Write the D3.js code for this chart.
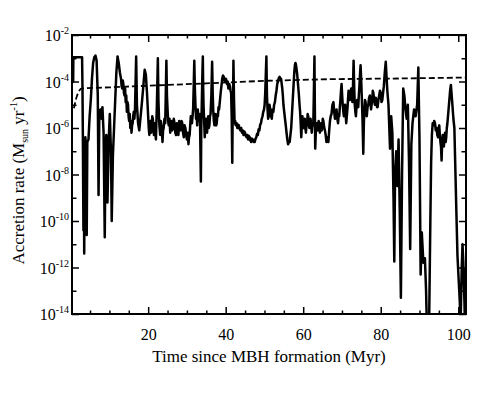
<!DOCTYPE html>
<html lang="en">
<head>
<meta charset="UTF-8">
<script src="https://d3js.org/d3.v7.min.js"></script>
<title>MBH accretion rate</title>
<style>
    body { margin: 0; background: #fff; }
    svg text { font-family: "Liberation Serif", "Times New Roman", serif; fill: #000; }
</style>
</head>
<body>
<script>
// accretion history of the MBH: time (Myr) and rate (Msun/yr), one row per stretch
var time = [0.65, 0.7, 2.95, 3.05, 3.15, 3.3, 3.4, 3.5, 3.65, 3.8, 4.0, 4.15, 4.3, 4.6, 4.9, 5.2, 5.5, 5.8, 6.1, 6.4,
    6.7, 7.0, 7.2, 7.4, 7.7, 8.0, 8.2, 8.5, 8.8, 9.0, 9.2, 9.5, 9.8, 10.1, 10.4, 10.6, 10.9, 11.2, 11.5, 11.8, 12.1, 12.4, 12.7,
    13.0, 13.15, 13.3, 13.45, 13.6, 13.75, 13.9, 14.05, 14.2, 14.35, 14.5, 14.65, 14.8, 14.95, 15.1, 15.25, 15.4, 15.55, 15.7, 15.85, 16.0, 16.15, 16.3, 16.45, 16.6,
    16.9, 17.1, 17.4, 17.7, 18.0, 18.4, 18.8, 19.1, 19.4, 19.7,
    20.0, 20.15, 20.3, 20.45, 20.6, 20.75, 20.9, 21.05, 21.2, 21.35, 21.5, 21.6, 21.7, 21.85, 22.0, 22.25, 22.5, 22.65, 22.8, 22.95, 23.1, 23.25, 23.4, 23.55, 23.7, 23.85, 24.0, 24.2, 24.4, 24.55, 24.7, 24.85,
    25.0, 25.15, 25.3, 25.5, 25.7, 25.85, 26.0, 26.2, 26.4, 26.6, 26.8, 27.0, 27.2, 27.4, 27.6, 27.8, 28.0, 28.2, 28.4, 28.6, 28.8, 29.0, 29.2, 29.4, 29.6, 29.8, 30.0, 30.2, 30.4, 30.55, 30.7, 30.85, 31.0,
    31.3, 31.6, 31.75, 31.9, 32.05, 32.2, 32.35, 32.5, 32.65, 32.8, 32.95, 33.1, 33.35, 33.6, 33.7, 33.8, 33.95, 34.1, 34.2, 34.3,
    34.45, 34.6, 34.75, 34.9, 35.05, 35.2, 35.35, 35.5, 35.65, 35.8, 35.95, 36.1, 36.3, 36.5, 36.65, 36.8, 36.95, 37.1, 37.25, 37.4, 37.55, 37.7, 37.85, 38.0, 38.15, 38.3,
    38.7, 38.9, 39.1, 39.3, 39.5, 39.7, 39.9, 40.1, 40.3, 40.5, 40.7, 40.9, 41.1, 41.25, 41.4, 41.55, 41.7, 41.8, 41.9, 42.0, 42.15,
    42.3, 42.45, 42.6, 42.8, 43.0, 43.2, 43.4, 43.6, 43.8, 44.0, 44.2, 44.4, 44.6, 44.8, 45.0, 45.2, 45.4, 45.6, 45.8, 46.0, 46.2, 46.4, 46.6, 46.8, 47.0, 47.25, 47.5, 47.7, 47.9, 48.1, 48.3, 48.5, 48.7, 48.9, 49.1, 49.3, 49.5, 49.7, 49.9, 50.05, 50.2, 50.5,
    50.65, 50.8, 50.95, 51.1, 51.3, 51.5, 51.7, 51.9, 52.1, 52.3, 52.5, 52.7, 52.9, 53.1, 53.3, 53.5, 53.7, 53.9, 54.1, 54.3, 54.45, 54.6, 54.75, 54.9,
    55.1, 55.3, 55.5, 55.7, 55.9, 56.1, 56.3, 56.5, 56.7, 56.9, 57.1, 57.3, 57.5, 57.7, 57.85, 58.0, 58.15, 58.3, 58.45, 58.6, 58.75, 58.9, 59.05, 59.2, 59.35, 59.5, 59.65, 59.8,
    59.95, 60.1, 60.25, 60.4, 60.55, 60.7, 60.85, 61.0, 61.15, 61.3, 61.45, 61.6, 61.75, 61.9, 62.05, 62.2, 62.4, 62.6, 62.75, 62.9, 63.0, 63.1, 63.25,
    63.4, 63.55, 63.7, 63.85, 64.0, 64.15, 64.3, 64.45, 64.6, 64.75, 64.9, 65.05, 65.2, 65.4, 65.6, 65.8, 66.0, 66.25, 66.5, 66.7, 66.9, 67.1, 67.3, 67.55, 67.8, 68.0, 68.2, 68.4, 68.6, 68.8, 69.0, 69.15, 69.3,
    69.45, 69.6, 69.75, 69.9, 70.05, 70.2, 70.35, 70.5, 70.65, 70.8, 70.95, 71.1, 71.25, 71.4, 71.55, 71.7, 71.85, 72.0, 72.2, 72.4, 72.55, 72.7, 72.85, 73.0, 73.15, 73.3, 73.45, 73.6, 73.75, 73.9,
    74.05, 74.2, 74.35, 74.5, 74.65, 74.8, 74.95, 75.1, 75.3, 75.5, 75.65, 75.8, 75.95, 76.1, 76.25, 76.4, 76.6, 76.8, 77.0, 77.2, 77.35, 77.5, 77.65, 77.8, 77.95, 78.1, 78.3, 78.5, 78.7, 78.9,
    79.05, 79.2, 79.4, 79.6, 79.8, 80.0, 80.2, 80.4, 80.6, 80.8, 81.05, 81.3, 81.5, 81.7, 81.85, 82.0,
    82.4, 82.7, 83.0, 83.3, 83.5, 83.7, 84.0, 84.3, 84.6, 84.9, 85.2, 85.5, 85.8, 86.1, 86.4, 86.7, 87.0, 87.3, 87.6, 87.9,
    88.2, 88.6, 89.0, 89.4, 89.7, 90.0, 90.3, 90.6, 91.0, 91.4, 91.7, 91.9, 92.2, 92.5, 92.8, 93.0,
    93.2, 93.4, 93.6, 93.8, 94.0, 94.2, 94.4, 94.6, 94.8, 94.95, 95.1, 95.25, 95.4, 95.55, 95.7, 95.85, 96.0, 96.15, 96.3, 96.45, 96.6, 96.75, 96.9, 97.05, 97.2,
    97.6, 97.9, 98.1, 98.4, 98.75, 99.0, 99.2, 99.5, 99.8, 100.1, 100.4, 100.6, 100.9, 101.1, 101.3, 101.6, 101.8, 102.0];
var rate = [8.9e-5, 1.1e-3, 1.1e-3, 6.3e-5, 5.0e-7, 4.0e-11, 3.2e-7, 4.0e-12, 1.6e-7, 4.0e-7, 1.0e-7, 2.5e-11, 2.5e-7, 3.2e-7, 3.2e-6, 1.6e-5, 1.3e-4, 6.3e-4, 1.1e-3, 1.3e-3,
    7.9e-4, 2.5e-5, 1.3e-9, 4.0e-6, 6.3e-6, 2.5e-6, 7.9e-6, 6.3e-7, 2.0e-11, 1.6e-7, 5.0e-7, 6.3e-10, 2.5e-7, 4.0e-6, 1.0e-7, 1.0e-10, 6.3e-8, 1.0e-6, 1.6e-5, 2.5e-4, 1.2e-3, 6.3e-4, 2.5e-4,
    1.3e-4, 6.3e-5, 5.0e-5, 1.1e-4, 7.9e-5, 3.2e-5, 2.5e-5, 5.0e-5, 1.3e-5, 2.5e-5, 5.0e-6, 1.3e-5, 1.0e-5, 3.2e-6, 2.0e-6, 4.0e-6, 1.0e-6, 2.0e-6, 6.3e-7, 1.3e-6, 1.6e-6, 3.2e-6, 5.0e-6, 2.5e-6, 6.3e-6,
    1.2e-3, 1.0e-5, 1.6e-6, 7.9e-7, 2.5e-6, 1.3e-5, 7.9e-5, 3.2e-4, 2.0e-4, 3.2e-5,
    3.2e-6, 1.0e-6, 5.0e-7, 1.6e-6, 2.0e-6, 6.3e-7, 1.0e-6, 3.2e-6, 2.5e-6, 7.9e-7, 5.0e-7, 1.3e-6, 1.6e-6, 6.3e-7, 3.2e-7, 1.0e-5, 1.0e-3, 1.6e-5, 2.5e-6, 1.0e-6, 5.0e-7, 2.0e-6, 1.3e-6, 6.3e-7, 2.5e-7, 7.9e-7, 1.0e-6, 2.5e-6, 1.6e-6, 3.2e-5, 7.9e-4, 2.5e-5,
    6.3e-6, 2.0e-6, 1.3e-6, 2.5e-6, 6.3e-7, 1.6e-6, 2.0e-6, 7.9e-7, 1.0e-6, 2.5e-6, 1.6e-6, 6.3e-7, 5.0e-7, 1.6e-6, 1.0e-6, 5.0e-7, 2.0e-6, 1.3e-6, 7.9e-7, 2.0e-6, 1.6e-6, 6.3e-7, 4.0e-7, 1.3e-6, 1.0e-6, 5.0e-7, 3.2e-7, 6.3e-7, 2.0e-7, 4.0e-7, 5.0e-7, 1.3e-6, 3.2e-6,
    1.6e-6, 6.3e-6, 6.3e-5, 7.9e-4, 5.0e-5, 1.0e-5, 2.5e-6, 4.0e-6, 1.3e-6, 6.3e-6, 2.0e-6, 2.5e-6, 4.0e-6, 5.0e-9, 1.0e-6, 5.0e-6, 1.0e-4, 1.2e-3, 5.0e-5, 7.9e-6,
    2.0e-6, 4.0e-7, 1.3e-6, 2.5e-6, 1.3e-6, 6.3e-7, 2.0e-6, 3.2e-6, 1.0e-6, 1.3e-6, 3.2e-6, 4.0e-6, 2.5e-5, 7.1e-4, 3.2e-5, 5.0e-6, 2.0e-6, 1.3e-6, 4.0e-6, 3.2e-6, 1.3e-6, 1.6e-6, 4.0e-6, 3.2e-6, 7.9e-6, 6.3e-6,
    3.2e-5, 6.3e-5, 1.3e-4, 1.8e-4, 1.6e-4, 1.1e-4, 1.0e-4, 1.3e-4, 7.9e-5, 1.0e-4, 5.0e-5, 7.9e-5, 6.3e-5, 4.0e-5, 3.2e-5, 3.2e-6, 3.2e-8, 3.2e-6, 1.0e-5, 7.9e-4, 1.6e-5,
    1.6e-6, 2.0e-6, 1.3e-6, 1.6e-6, 1.0e-6, 1.4e-6, 1.3e-6, 8.9e-7, 7.9e-7, 1.0e-6, 6.3e-7, 7.9e-7, 5.0e-7, 7.1e-7, 6.3e-7, 4.5e-7, 4.0e-7, 5.0e-7, 3.2e-7, 4.5e-7, 4.0e-7, 2.8e-7, 2.5e-7, 3.5e-7, 3.2e-7, 2.5e-7, 2.5e-7, 3.5e-7, 4.0e-7, 5.6e-7, 5.0e-7, 8.9e-7, 7.9e-7, 1.4e-6, 1.6e-6, 2.5e-6, 3.2e-6, 5.0e-6, 6.3e-6, 1.0e-5, 3.2e-5, 1.2e-3,
    2.5e-5, 6.3e-6, 2.5e-6, 3.2e-6, 1.0e-5, 6.3e-6, 3.2e-6, 2.5e-6, 6.3e-6, 5.0e-6, 1.0e-5, 1.3e-5, 2.5e-5, 4.0e-5, 7.9e-5, 1.0e-4, 1.4e-4, 1.6e-4, 1.4e-4, 1.3e-4, 7.9e-5, 5.0e-5, 2.5e-5, 1.0e-5,
    5.0e-6, 2.5e-6, 1.3e-6, 6.3e-7, 3.2e-7, 2.0e-7, 2.5e-7, 2.5e-7, 5.0e-7, 1.0e-6, 4.0e-6, 1.6e-5, 6.3e-5, 2.5e-4, 5.0e-4, 6.3e-4, 5.0e-4, 3.2e-4, 2.0e-4, 1.0e-4, 5.0e-5, 2.5e-5, 1.0e-5, 5.0e-6, 1.6e-6, 4.0e-7, 1.3e-6, 3.2e-6,
    1.3e-6, 1.0e-6, 2.0e-6, 2.5e-6, 1.0e-6, 6.3e-7, 1.3e-6, 1.6e-6, 4.0e-6, 3.2e-6, 1.3e-6, 1.0e-6, 2.0e-6, 2.5e-6, 1.3e-6, 6.3e-7, 1.6e-6, 1.3e-6, 3.2e-5, 1.2e-3, 1.0e-5, 1.3e-7, 6.3e-7,
    1.6e-6, 1.3e-6, 7.9e-7, 1.6e-6, 2.0e-6, 1.0e-6, 6.3e-7, 1.3e-6, 1.6e-6, 7.9e-7, 1.0e-6, 2.5e-6, 2.0e-6, 1.1e-6, 7.9e-7, 5.0e-7, 2.5e-7, 4.0e-7, 2.5e-7, 7.9e-7, 2.0e-6, 3.2e-6, 4.0e-6, 1.0e-5, 1.3e-5, 5.0e-6, 2.5e-6, 4.0e-6, 6.3e-6, 2.5e-6, 1.6e-6, 4.0e-6, 3.2e-6,
    7.9e-6, 1.6e-5, 4.0e-5, 7.9e-5, 2.5e-5, 1.0e-5, 5.0e-6, 3.2e-6, 6.3e-6, 1.0e-5, 4.0e-6, 1.6e-6, 3.2e-6, 6.3e-6, 1.6e-5, 4.0e-5, 2.0e-5, 1.6e-5, 3.2e-5, 5.0e-5, 2.0e-5, 1.3e-5, 6.3e-5, 7.9e-4, 6.3e-5, 1.0e-5, 5.0e-6, 3.2e-6, 7.9e-6, 1.6e-5,
    1.0e-5, 7.9e-6, 2.5e-5, 6.3e-5, 2.0e-4, 5.0e-4, 1.3e-4, 2.5e-5, 2.5e-6, 7.9e-8, 1.6e-6, 6.3e-6, 1.6e-5, 1.3e-5, 5.0e-6, 3.2e-6, 7.9e-6, 1.0e-5, 2.0e-5, 2.5e-5, 1.3e-5, 6.3e-6, 1.0e-5, 1.6e-5, 4.0e-5, 3.2e-5, 1.6e-5, 1.0e-5, 2.0e-5, 1.6e-5,
    7.9e-6, 7.9e-6, 1.6e-5, 2.5e-5, 4.0e-5, 3.2e-5, 1.3e-5, 1.6e-5, 3.2e-5, 6.3e-5, 2.5e-4, 7.1e-4, 1.6e-4, 4.0e-5, 2.0e-5, 1.0e-5,
    1.3e-7, 3.2e-6, 6.3e-7, 1.0e-9, 1.8e-12, 1.0e-8, 1.0e-7, 3.2e-9, 3.2e-7, 3.2e-10, 5.0e-14, 1.0e-8, 5.0e-5, 2.5e-5, 6.3e-6, 2.5e-6, 1.0e-5, 3.2e-8, 6.3e-12, 2.0e-7,
    1.6e-6, 6.3e-6, 3.2e-6, 1.0e-5, 4.0e-4, 3.2e-7, 5.0e-13, 3.2e-11, 1.6e-12, 2.5e-12, 1.0e-13, 3.2e-15, 1.0e-15, 6.3e-15, 1.0e-10, 3.2e-8,
    5.0e-7, 1.6e-6, 1.3e-6, 2.0e-6, 1.6e-6, 7.9e-7, 1.0e-6, 5.0e-7, 4.0e-7, 1.0e-6, 1.3e-6, 5.0e-7, 2.5e-7, 1.6e-7, 4.0e-8, 2.5e-7, 5.0e-7, 3.2e-7, 1.6e-7, 4.0e-7, 6.3e-7, 2.5e-7, 4.0e-7, 1.0e-6, 1.6e-6,
    1.0e-5, 4.0e-5, 7.1e-5, 1.6e-5, 2.5e-6, 1.0e-6, 4.0e-8, 3.2e-10, 3.2e-12, 3.2e-13, 3.2e-14, 3.2e-15, 1.0e-12, 1.0e-11, 1.8e-12, 3.2e-14, 1.0e-15, 1.0e-12];

// reference (dashed) rate
var refTime = [0.85, 1.3, 1.7, 2.1, 2.6, 3.5, 10, 20, 35, 50, 67, 85, 102];
var refRate = [7.1e-6, 1.6e-5, 2.6e-5, 3.8e-5, 4.8e-5, 5.1e-5, 5.6e-5, 6.6e-5, 8.3e-5, 1.07e-4, 1.26e-4, 1.35e-4, 1.48e-4];

var xMajor = [20, 40, 60, 80, 100];
var xMinor = [5, 10, 15, 25, 30, 35, 45, 50, 55, 65, 70, 75, 85, 90, 95];
var yExp = [-14, -12, -10, -8, -6, -4, -2];
var yMinorExp = [-13, -11, -9, -7, -5, -3];

var canvasWidth = 480, canvasHeight = 399;
var plotLeft = 72, plotRight = 466, plotTop = 35, plotBottom = 314;

var svg = d3.select("body").append("svg")
    .attr("width", canvasWidth)
    .attr("height", canvasHeight);

var xScale = d3.scaleLinear().domain([0.35, 102]).range([plotLeft, plotRight]);
var yScale = d3.scaleLog().domain([1e-14, 1e-2]).range([plotBottom, plotTop]);

svg.append("clipPath").attr("id", "plot")
    .append("rect").attr("x", plotLeft).attr("y", plotTop)
    .attr("width", plotRight - plotLeft).attr("height", plotBottom - plotTop);

var line = d3.line()
    .x(function(d){ return xScale(d[0]); })
    .y(function(d){ return yScale(d[1]); });

var series = time.map(function(t, i){ return [t, rate[i]]; });
var refSeries = refTime.map(function(t, i){ return [t, refRate[i]]; });

svg.append("path").datum(refSeries)
    .attr("clip-path", "url(#plot)")
    .attr("d", line)
    .attr("fill", "none")
    .attr("stroke", "#000")
    .attr("stroke-width", 1.8)
    .attr("stroke-dasharray", "6,3");

svg.append("path").datum(series)
    .attr("clip-path", "url(#plot)")
    .attr("d", line)
    .attr("fill", "none")
    .attr("stroke", "#000")
    .attr("stroke-width", 2.5)
    .attr("stroke-linejoin", "round");

// axes: ticks point inward on all four sides
function cleanAxis(g){
    g.select(".domain").remove();
    g.selectAll(".tick line").attr("stroke", "#000").attr("stroke-width", 1.5);
}
svg.append("g").attr("transform", "translate(0," + plotBottom + ")")
    .call(d3.axisBottom(xScale).tickValues(xMajor).tickSize(-7).tickPadding(15))
    .call(cleanAxis)
    .selectAll("text").attr("font-size", 16).attr("font-family", "Liberation Serif");
svg.append("g").attr("transform", "translate(0," + plotBottom + ")")
    .call(d3.axisBottom(xScale).tickValues(xMinor).tickSize(-3.5).tickFormat(""))
    .call(cleanAxis);
svg.append("g").attr("transform", "translate(0," + plotTop + ")")
    .call(d3.axisTop(xScale).tickValues(xMajor).tickSize(-7).tickFormat(""))
    .call(cleanAxis);
svg.append("g").attr("transform", "translate(0," + plotTop + ")")
    .call(d3.axisTop(xScale).tickValues(xMinor).tickSize(-3.5).tickFormat(""))
    .call(cleanAxis);

var yMajorVals = yExp.map(function(e){ return Math.pow(10, e); });
var yMinorVals = yMinorExp.map(function(e){ return Math.pow(10, e); });
svg.append("g").attr("transform", "translate(" + plotLeft + ",0)")
    .call(d3.axisLeft(yScale).tickValues(yMajorVals).tickSize(-7).tickFormat(""))
    .call(cleanAxis);
svg.append("g").attr("transform", "translate(" + plotLeft + ",0)")
    .call(d3.axisLeft(yScale).tickValues(yMinorVals).tickSize(-4.5).tickFormat(""))
    .call(cleanAxis);
svg.append("g").attr("transform", "translate(" + plotRight + ",0)")
    .call(d3.axisRight(yScale).tickValues(yMajorVals).tickSize(-7).tickFormat(""))
    .call(cleanAxis);
svg.append("g").attr("transform", "translate(" + plotRight + ",0)")
    .call(d3.axisRight(yScale).tickValues(yMinorVals).tickSize(-4.5).tickFormat(""))
    .call(cleanAxis);

// y tick labels as 10^n
var ylab = svg.append("g").selectAll("text").data(yExp).enter().append("text")
    .attr("x", plotLeft - 3)
    .attr("y", function(e){ return yScale(Math.pow(10, e)) + 6; })
    .attr("text-anchor", "end")
    .attr("font-size", 16);
ylab.append("tspan").text("10");
ylab.append("tspan").attr("dy", -7).attr("font-size", 10).text(function(e){ return e; });

// frame
svg.append("rect")
    .attr("x", plotLeft).attr("y", plotTop)
    .attr("width", plotRight - plotLeft).attr("height", plotBottom - plotTop)
    .attr("fill", "none").attr("stroke", "#000").attr("stroke-width", 2);

svg.append("text")
    .attr("x", (plotLeft + plotRight) / 2).attr("y", 362)
    .attr("text-anchor", "middle").attr("font-size", 17)
    .text("Time since MBH formation (Myr)");

var ytitle = svg.append("text")
    .attr("transform", "translate(24," + ((plotTop + plotBottom) / 2 + 6) + ") rotate(-90)")
    .attr("text-anchor", "middle").attr("font-size", 17);
ytitle.append("tspan").text("Accretion rate (M");
ytitle.append("tspan").attr("font-size", 10).attr("dy", 4).text("sun");
ytitle.append("tspan").attr("dy", -4).text(" yr");
ytitle.append("tspan").attr("font-size", 10).attr("dy", -7).text("-1");
ytitle.append("tspan").attr("dy", 7).text(")");
</script>
</body>
</html>
